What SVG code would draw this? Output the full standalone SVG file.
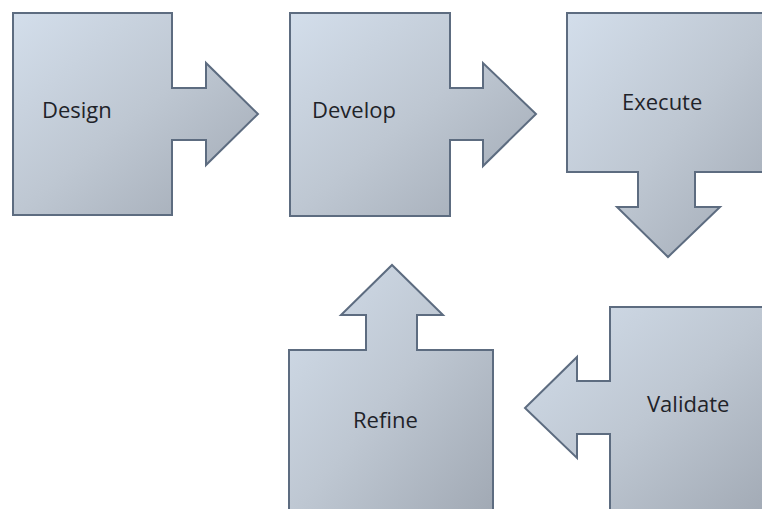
<svg xmlns="http://www.w3.org/2000/svg" width="762" height="509" viewBox="0 0 762 509">
<defs>
<linearGradient id="g" x1="0" y1="0" x2="1" y2="1">
<stop offset="0" stop-color="#d3deeb"/>
<stop offset="0.5" stop-color="#bec7d2"/>
<stop offset="1" stop-color="#a0a8b3"/>
</linearGradient>
</defs>
<style>
.s{fill:url(#g);stroke:#5d6c80;stroke-width:2;stroke-linejoin:miter}
.t{font-family:"Open Sans","Liberation Sans",sans-serif;font-size:22px;fill:#1f2329}
</style>
<rect width="762" height="509" fill="#ffffff"/>
<g id="design">
<path class="s" d="M13,13 H172 V88 H206 V63 L258,114 L206,165 V140 H172 V215 H13 Z"/>
<text class="t" x="42" y="118">Design</text>
</g>
<g id="develop">
<path class="s" d="M290,13 H450 V88 H483 V63 L536,114 L483,166 V140 H450 V216 H290 Z"/>
<text class="t" x="312" y="118">Develop</text>
</g>
<g id="execute">
<path class="s" d="M567,13 H775 V172 H695 V207 H720 L668,257 L617,207 H638 V172 H567 Z"/>
<text class="t" x="622" y="110">Execute</text>
</g>
<g id="validate">
<path class="s" d="M610,307 H775 V520 H610 V434 H577 V458 L525,408 L577,357 V381 H610 Z"/>
<text class="t" x="647" y="412">Validate</text>
</g>
<g id="refine">
<path class="s" d="M289,350 H366 V315 H341 L392,265 L443,315 H417 V350 H493 V520 H289 Z"/>
<text class="t" x="353" y="428">Refine</text>
</g>
<g id="connectors"></g>
</svg>
